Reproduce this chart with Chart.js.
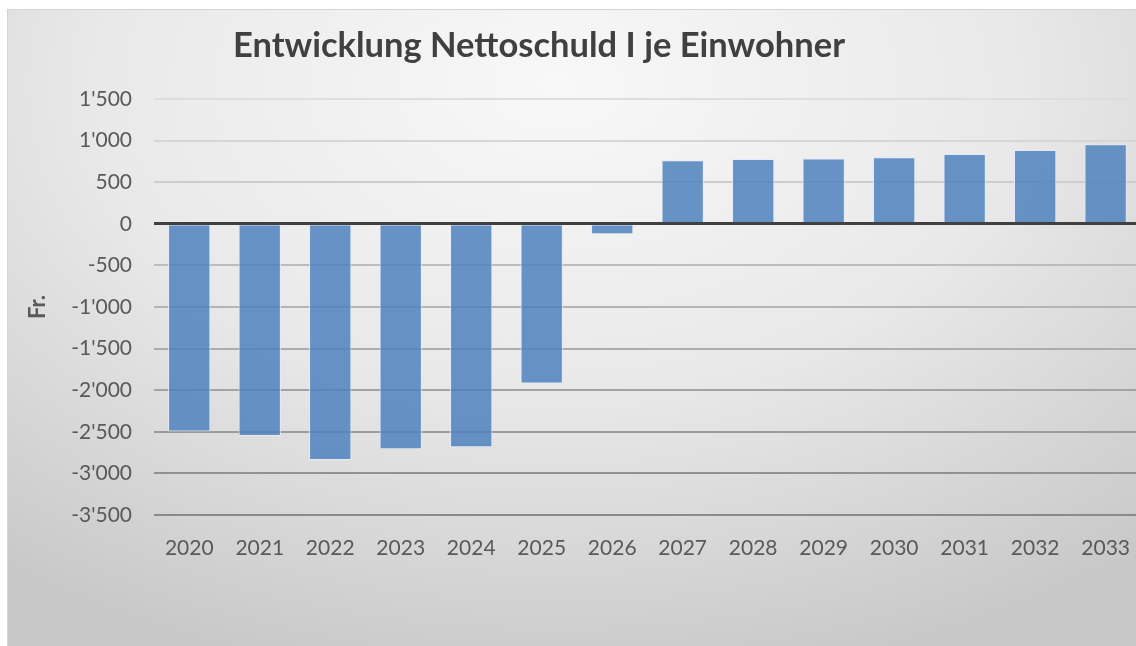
<!DOCTYPE html>
<html>

<head>
  <script src="https://cdn.jsdelivr.net/npm/chart.js@4.4.1/dist/chart.umd.min.js"></script>
  <style>
    body { margin: 0; background: #fff; overflow: hidden; width: 1136px; height: 646px; position: relative; }
    .frame {
      position: absolute; left: 7px; top: 9px; width: 1143px; height: 637px;
      border-left: 1px solid #d4d4d4; border-top: 1px solid #d4d4d4;
      background: radial-gradient(ellipse 80% 95% at 48% 12%, #f8f8f8 0%, #e9e9e9 50%, #c8c8c8 100%);
    }
    .title {
      position: absolute; left: 0; top: 27px; width: 1078px; text-align: center;
      font: bold 34.5px Lato, sans-serif; line-height: 34px; color: #404040;
    }
  </style>
</head>

<body>
  <div class="frame">
    <canvas id="myChart" width="1143" height="637"></canvas>
  </div>
  <div class="title">Entwicklung Nettoschuld I je Einwohner</div>
  <script type="text/javascript">
    // data
    var years = ['2020', '2021', '2022', '2023', '2024', '2025', '2026',
                 '2027', '2028', '2029', '2030', '2031', '2032', '2033'];
    var nettoschuld = [-2495, -2550, -2840, -2710, -2685, -1920, -125,
                       765, 780, 785, 800, 840, 888, 955];
    var yMin = -3500, yMax = 1500, yStep = 500;

    function fmt(v) {
      var s = Math.abs(v).toString().replace(/\B(?=(\d{3})+(?!\d))/g, "'");
      return (v < 0 ? '-' : '') + s;
    }

    var ctx = document.getElementById('myChart').getContext('2d');
    var chart = new Chart(ctx, {
      type: 'bar',
      data: {
        labels: years,
        datasets: [{
          label: 'Nettoschuld I je Einwohner',
          data: nettoschuld,
          backgroundColor: 'rgba(79, 129, 189, 0.85)',
          borderColor: 'rgba(225, 235, 248, 0.9)',
          borderWidth: 1,
          categoryPercentage: 1,
          barPercentage: 0.6
        }]
      },
      options: {
        responsive: false,
        animation: false,
        layout: { padding: { top: 89, bottom: 72, left: 0, right: 0 } },
        plugins: {
          legend: { display: false },
          tooltip: { enabled: false },
          title: { display: false }
        },
        scales: {
          x: {
            offset: true,
            grid: { display: false, drawTicks: false },
            border: { display: false },
            ticks: { color: '#595959', font: { family: 'Lato', size: 21 }, padding: 21, maxRotation: 0 },
            afterFit: function(scale) { scale.height = 60; }
          },
          y: {
            min: yMin,
            max: yMax,
            ticks: {
              stepSize: yStep,
              color: '#595959',
              font: { family: 'Lato', size: 21 },
              padding: 22,
              callback: function(v) { return fmt(v); }
            },
            border: { display: false },
            grid: {
              drawTicks: false,
              color: function(c) {
                if (c.tick.value === 0) return '#404040';
                var t = (yMax - c.tick.value) / (yMax - yMin);
                var g = Math.round(222 - t * 84);
                return 'rgb(' + g + ',' + g + ',' + g + ')';
              },
              lineWidth: function(c) { return c.tick.value === 0 ? 3 : 2; }
            },
            title: {
              display: true,
              text: 'Fr.',
              color: '#595959',
              font: { family: 'Lato', size: 22, weight: 'bold' },
              padding: { top: 17, bottom: 0 }
            },
            afterFit: function(scale) { scale.width = 146; }
          }
        }
      }
    });
  </script>
</body>

</html>
